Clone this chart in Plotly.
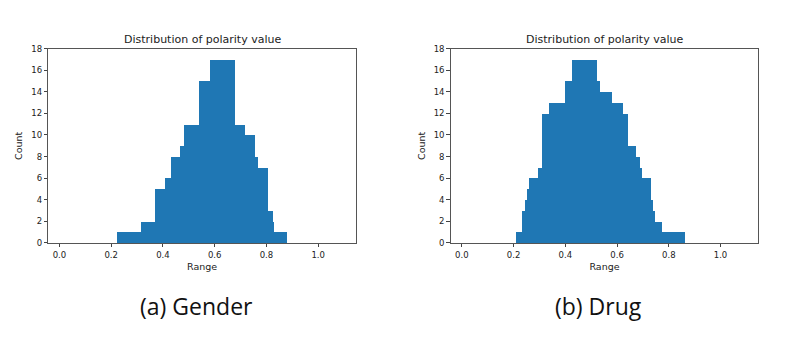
import plotly.graph_objects as go

# Gender: step edges (left edges + final right edge) and counts
gender_edges = [0.222, 0.317, 0.371, 0.410, 0.431, 0.466, 0.481, 0.541, 0.584,
                0.681, 0.720, 0.757, 0.767, 0.809, 0.826, 0.832, 0.880]
gender_counts = [1, 2, 5, 6, 8, 9, 11, 15, 17, 11, 10, 8, 7, 3, 2, 1]

# Drug
drug_edges = [0.210, 0.231, 0.246, 0.252, 0.260, 0.293, 0.307, 0.335, 0.396,
              0.425, 0.522, 0.534, 0.580, 0.623, 0.641, 0.672, 0.689, 0.695,
              0.731, 0.736, 0.747, 0.773, 0.861]
drug_counts = [1, 3, 4, 5, 6, 7, 12, 13, 15, 17, 15, 14, 13, 12, 9, 8, 7, 6,
               4, 3, 2, 1]

x_ticks = [0.0, 0.2, 0.4, 0.6, 0.8, 1.0]
x_tick_labels = ["0.0", "0.2", "0.4", "0.6", "0.8", "1.0"]
y_ticks = list(range(0, 19, 2))

title_text = "Distribution of polarity value"
captions = ["(a) Gender", "(b) Drug"]

W, H = 789, 344
BLUE = "#1f77b4"
FONT = "DejaVu Sans"


def bar_trace(edges, counts, xa, ya):
    widths = [edges[i + 1] - edges[i] for i in range(len(counts))]
    return go.Bar(x=edges[:-1], y=counts, width=widths, offset=0,
                  marker=dict(color=BLUE, line=dict(width=0)),
                  xaxis=xa, yaxis=ya, showlegend=False, hoverinfo="x+y")


fig = go.Figure()
fig.add_trace(bar_trace(gender_edges, gender_counts, "x", "y"))
fig.add_trace(bar_trace(drug_edges, drug_counts, "x2", "y2"))

# plot areas in pixels
areas = [(48.3, 356.0), (450.7, 758.3)]
y_top, y_bot = 45.0, 245.0
ydom = [1 - y_bot / H, 1 - y_top / H]

axis_common = dict(showline=True, linecolor="#555", linewidth=1, mirror=True,
                   ticks="outside", ticklen=3.5, tickwidth=1, tickcolor="#444",
                   showgrid=False, zeroline=False,
                   tickfont=dict(family=FONT, size=8.5, color="#222"))

for i, (x0, x1) in enumerate(areas):
    sfx = "" if i == 0 else str(i + 1)
    fig.layout["xaxis" + sfx] = dict(
        domain=[x0 / W, x1 / W], range=[-0.043, 1.146],
        tickvals=x_ticks, ticktext=x_tick_labels,
        anchor="y" + sfx,
        title=dict(text="Range", font=dict(family=FONT, size=9.5, color="#222"), standoff=4),
        **axis_common)
    fig.layout["yaxis" + sfx] = dict(
        domain=ydom, range=[0, 18], tickvals=y_ticks,
        anchor="x" + sfx,
        title=dict(text="Count", font=dict(family=FONT, size=9.5, color="#222"), standoff=6),
        **axis_common)

annotations = []
for (x0, x1) in areas:
    annotations.append(dict(text=title_text, x=(x0 + x1) / 2 / W, y=1 - 36 / H,
                            xref="paper", yref="paper", showarrow=False,
                            xanchor="center", yanchor="middle",
                            font=dict(family=FONT, size=11, color="#222")))
cap_x = [196, 598]
for cx, txt in zip(cap_x, captions):
    annotations.append(dict(text=txt, x=cx / W, y=1 - 310 / H,
                            xref="paper", yref="paper", showarrow=False,
                            xanchor="center", yanchor="middle",
                            font=dict(family="Open Sans", size=23, color="#111")))

fig.update_layout(width=W, height=H, margin=dict(l=0, r=0, t=0, b=0),
                  paper_bgcolor="white", plot_bgcolor="white",
                  bargap=0, annotations=annotations)

fig.write_html("out.html")
